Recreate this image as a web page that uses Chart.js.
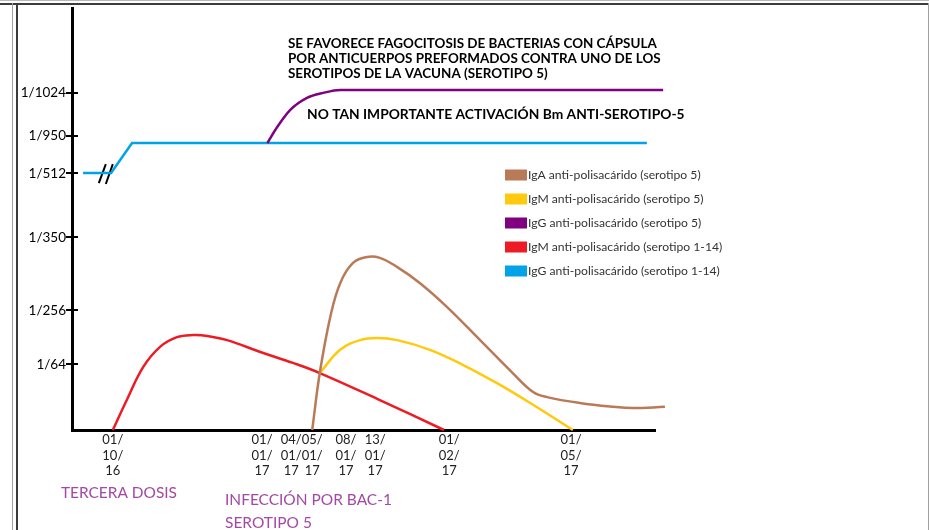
<!DOCTYPE html>
<html>
<head>
<meta charset="utf-8">
<script src="https://cdn.jsdelivr.net/npm/chart.js@4.4.2/dist/chart.umd.min.js"></script>
<style>
  html, body { margin: 0; padding: 0; background: #fff; }
  #wrap { position: relative; width: 929px; height: 530px; overflow: hidden; }
  #wrap canvas { position: absolute; left: 0; top: 0; }
  .ln { position: absolute; }
</style>
</head>
<body>
<div id="wrap">
  <div class="ln" style="left:0;top:0;width:929px;height:1px;background:#b8b8b8"></div>
  <div class="ln" style="left:0;top:3px;width:929px;height:2px;background:#3c3c3c"></div>
  <div class="ln" style="left:12px;top:3px;width:1px;height:527px;background:#a0a0a0"></div>
  <div class="ln" style="left:16px;top:3px;width:2px;height:527px;background:#3c3c3c"></div>
  <div class="ln" style="left:928px;top:3px;width:1px;height:527px;background:#a0a0a0"></div>
  <canvas id="chart" width="929" height="530"></canvas>
</div>
<script>
// axis ticks (abstract drawing units, 0-100 on both axes)
const xTickPos = [7.0, 32.6, 37.6, 41.2, 47.0, 52.0, 64.7, 85.6];
const xTickLabels = ['01/10/16', '01/01/17', '04/01/17', '05/01/17',
  '08/01/17', '13/01/17', '01/02/17', '01/05/17'];

const yTickPos = [15.6, 28.4, 45.7, 60.8, 69.8, 79.9];
const yTickLabels = ['1/64', '1/256', '1/350', '1/512', '1/950', '1/1024'];

// IgA anti-polisacárido (serotipo 5)
const igaS5X = [41.2, 42.5, 44.3, 46.0, 48.2, 50.6, 52.8, 55.8, 59.7, 64.3,
  70.0, 75.6, 79.1, 81.5, 87.1, 92.8, 96.2, 101.7];
const igaS5Y = [0, 13.5, 26.8, 34.8, 39.6, 41.0, 40.8, 38.6, 34.8, 29.2,
  21.3, 13.5, 9.0, 7.8, 6.4, 5.5, 5.2, 5.5];

// IgM anti-polisacárido (serotipo 5)
const igmS5X = [42.5, 46.0, 49.4, 52.3, 55.8, 61.4, 67.1, 72.9, 78.6, 85.9];
const igmS5Y = [13.5, 19.0, 21.3, 21.8, 21.3, 19.0, 15.4, 11.1, 6.4, 0];

// IgG anti-polisacárido (serotipo 5)
const iggS5X = [33.5, 35.2, 37.4, 40.3, 43.1, 46.0, 101.4];
const iggS5Y = [68.0, 71.8, 75.8, 78.7, 79.9, 80.6, 80.6];

// IgM anti-polisacárido (serotipo 1-14)
const igm114X = [7.0, 9.4, 12.2, 15.1, 18.0, 20.8, 23.2, 26.6, 32.3, 37.9,
  42.5, 52.8, 63.8];
const igm114Y = [0, 7.1, 14.9, 19.7, 22.0, 22.5, 22.3, 21.3, 18.5, 15.9,
  13.5, 7.1, 0];

// IgG anti-polisacárido (serotipo 1-14)
const igg114X = [1.9, 6.7, 10.3, 98.6];
const igg114Y = [60.9, 60.9, 68.0, 68.0];

// axis break "//"
const breakAX = [4.6, 5.8];
const breakAY = [58.5, 63.0];
const breakBX = [5.8, 7.0];
const breakBY = [58.3, 63.0];

const toPoints = (xs, ys) => xs.map((x, i) => ({x: x, y: ys[i]}));

function curve(label, color, xs, ys, tension) {
  return {
    label: label,
    data: toPoints(xs, ys),
    borderColor: color,
    backgroundColor: color,
    borderWidth: 2.5,
    pointRadius: 0,
    tension: tension,
    clip: false
  };
}

function breakMark(xs, ys) {
  return {
    label: '',
    data: toPoints(xs, ys),
    borderColor: '#000',
    borderWidth: 2,
    pointRadius: 0,
    tension: 0,
    clip: false
  };
}

const purpleSet = curve('IgG anti-polisacárido (serotipo 5)', '#800080',
    iggS5X, iggS5Y, 0);
purpleSet.cubicInterpolationMode = 'monotone';

const datasets = [
  curve('IgA anti-polisacárido (serotipo 5)', '#B97A57', igaS5X, igaS5Y, 0.4),
  curve('IgM anti-polisacárido (serotipo 5)', '#FFC90E', igmS5X, igmS5Y, 0.4),
  purpleSet,
  curve('IgM anti-polisacárido (serotipo 1-14)', '#ED1C24', igm114X, igm114Y,
      0.4),
  curve('IgG anti-polisacárido (serotipo 1-14)', '#00A2E8', igg114X, igg114Y,
      0),
  breakMark(breakAX, breakAY),
  breakMark(breakBX, breakBY)
];

function fitFont(ctx, text, weight, family, width) {
  ctx.font = weight + ' 20px ' + family;
  const size = 20 * width / ctx.measureText(text).width;
  return weight + ' ' + size.toFixed(2) + 'px ' + family;
}

// notes, custom legend and small tick stubs right of the y axis
const overlay = {
  id: 'overlay',
  afterDraw(chart) {
    const ctx = chart.ctx;
    const yScale = chart.scales.y;
    ctx.save();

    ctx.strokeStyle = '#000';
    ctx.lineWidth = 2;
    yScale.ticks.forEach(t => {
      const py = Math.round(yScale.getPixelForValue(t.value));
      ctx.beginPath();
      ctx.moveTo(chart.chartArea.left, py);
      ctx.lineTo(chart.chartArea.left + 6, py);
      ctx.stroke();
    });

    ctx.textBaseline = 'middle';
    ctx.textAlign = 'left';
    ctx.fillStyle = '#000';
    const note = ['SE FAVORECE FAGOCITOSIS DE BACTERIAS CON CÁPSULA',
      'POR ANTICUERPOS PREFORMADOS CONTRA UNO DE LOS',
      'SEROTIPOS DE LA VACUNA (SEROTIPO 5)'];
    ctx.font = fitFont(ctx, note[0], 'bold', 'Lato', 369);
    note.forEach((s, i) => ctx.fillText(s, 288, 44 + i * 15));
    const note2 = 'NO TAN IMPORTANTE ACTIVACIÓN Bm ANTI-SEROTIPO-5';
    ctx.font = fitFont(ctx, note2, 'bold', 'Lato', 378);
    ctx.fillText(note2, 307, 115);

    const items = chart.data.datasets.filter(d => d.label);
    ctx.font = fitFont(ctx, items[4].label, 'normal', 'Lato', 192);
    items.forEach((d, i) => {
      const cy = 175 + i * 24;
      ctx.fillStyle = d.borderColor;
      ctx.fillRect(505, cy - 5.5, 22, 11);
      ctx.fillStyle = '#333';
      ctx.fillText(d.label, 528, cy);
    });

    ctx.fillStyle = '#A349A4';
    ctx.font = fitFont(ctx, 'TERCERA DOSIS', 'normal', 'Lato', 116);
    ctx.fillText('TERCERA DOSIS', 61, 493);
    ctx.font = fitFont(ctx, 'INFECCIÓN POR BAC-1', 'normal', 'Lato', 167);
    ctx.fillText('INFECCIÓN POR BAC-1', 225, 500);
    ctx.fillText('SEROTIPO 5', 225, 523);
    ctx.restore();
  }
};

new Chart(document.getElementById('chart'), {
  type: 'line',
  data: {datasets: datasets},
  plugins: [overlay],
  options: {
    responsive: false,
    animation: false,
    events: [],
    layout: {padding: {top: 8, right: 274, left: 0, bottom: 0}},
    plugins: {
      legend: {display: false},
      tooltip: {enabled: false}
    },
    scales: {
      x: {
        type: 'linear',
        min: 0,
        max: 100,
        afterFit: s => { s.height = 100; },
        afterBuildTicks: s => { s.ticks = xTickPos.map(v => ({value: v})); },
        grid: {display: false, drawTicks: false},
        border: {display: true, color: '#000', width: 3},
        ticks: {
          autoSkip: false,
          maxRotation: 0,
          minRotation: 0,
          padding: 2,
          color: '#222',
          font: {family: 'Lato', size: 13, lineHeight: 1.2},
          callback: (v, i) => {
            const p = xTickLabels[i].split('/');
            return [p[0] + '/', p[1] + '/', p[2]];
          }
        }
      },
      y: {
        type: 'linear',
        min: 0,
        max: 100,
        afterFit: s => { s.width = 72; },
        afterBuildTicks: s => { s.ticks = yTickPos.map(v => ({value: v})); },
        grid: {
          display: true,
          drawOnChartArea: false,
          drawTicks: true,
          tickLength: 6,
          color: '#000',
          lineWidth: 2
        },
        border: {display: true, color: '#000', width: 3},
        ticks: {
          padding: 0,
          color: '#000',
          font: {family: 'Lato', size: 13.5},
          callback: (v, i) => yTickLabels[i]
        }
      }
    }
  }
});
</script>
</body>
</html>
